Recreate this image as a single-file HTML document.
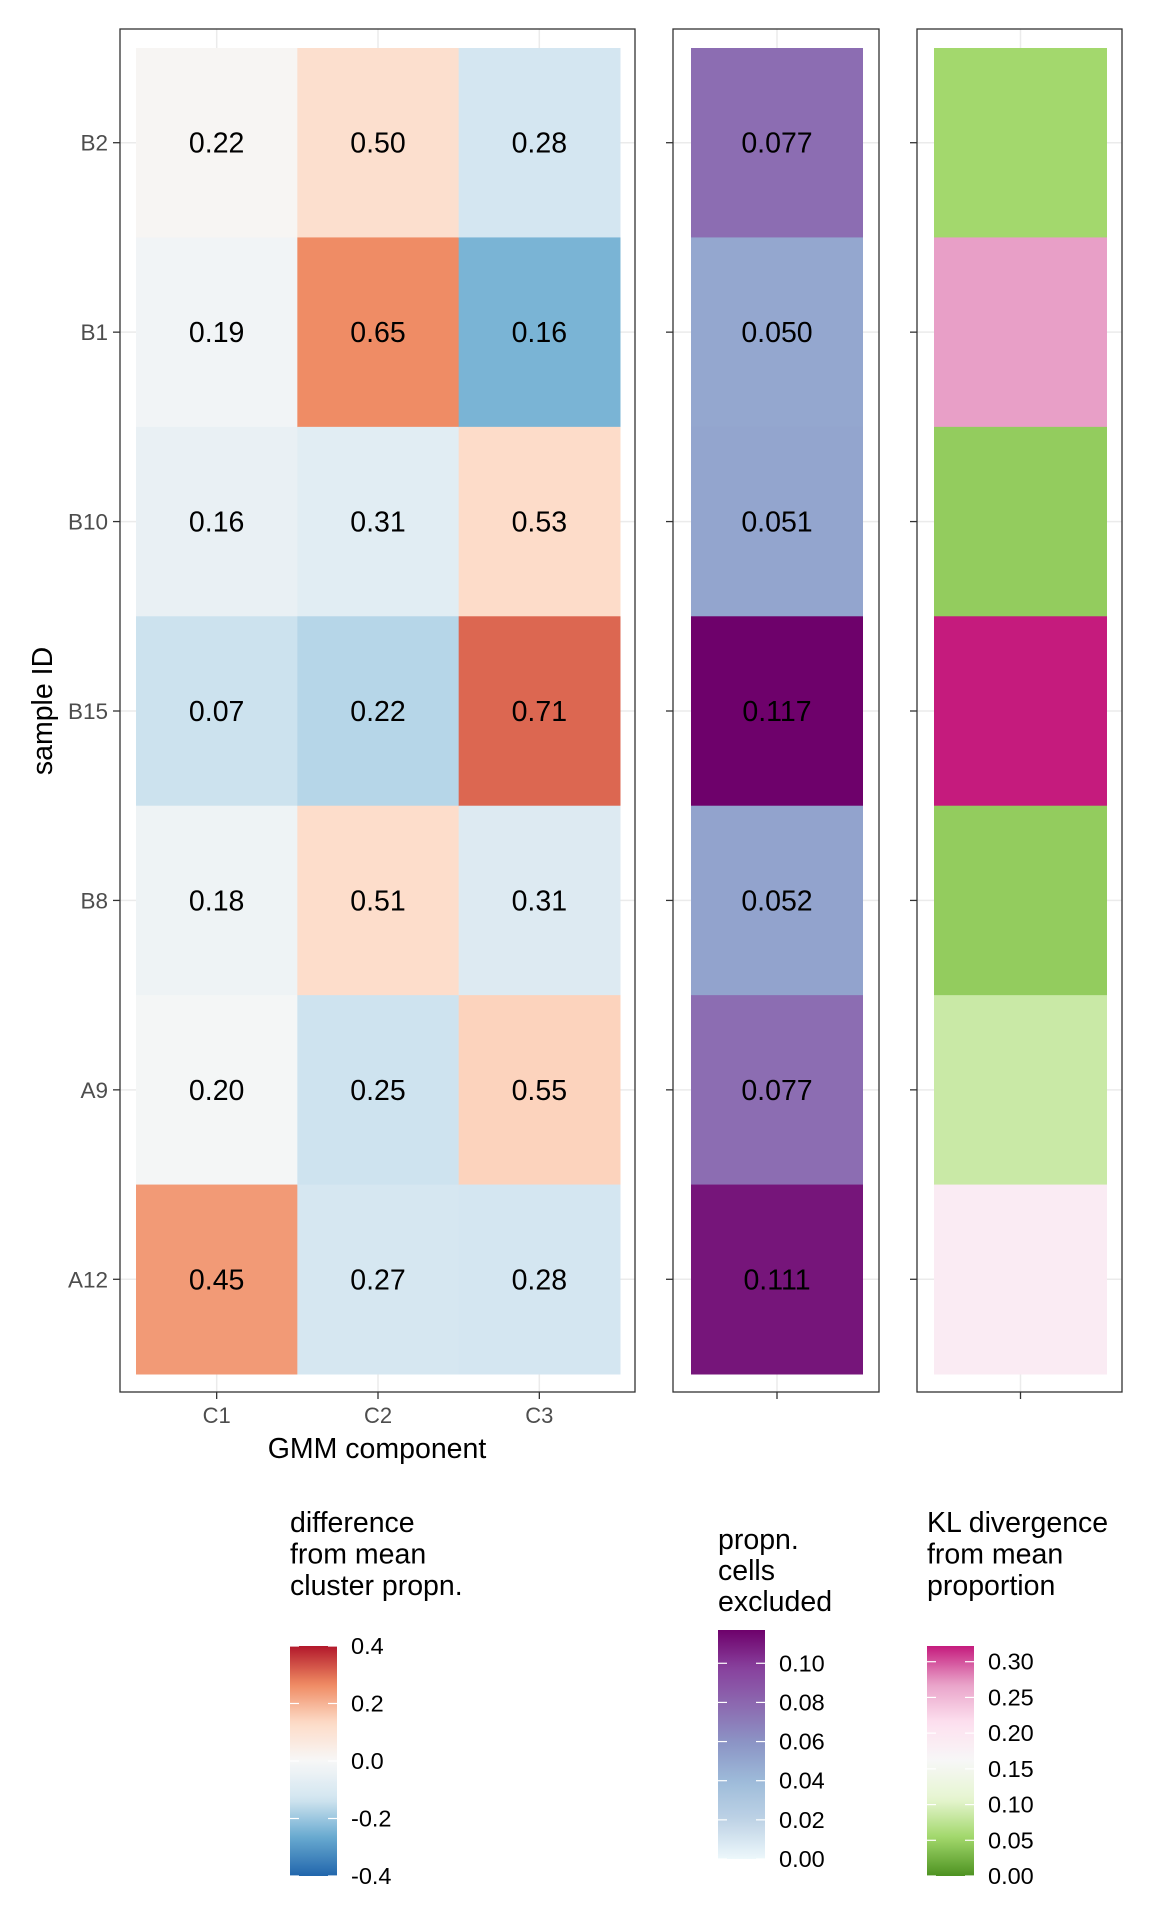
<!DOCTYPE html>
<html><head><meta charset="utf-8"><style>
html,body{margin:0;padding:0;background:#fff;}
svg{display:block;font-family:"Liberation Sans",Arial,sans-serif;}
</style></head><body>
<svg id="chart" width="1152" height="1920" viewBox="0 0 1152 1920" xmlns="http://www.w3.org/2000/svg"></svg>
<script>
const samples = ["B2","B1","B10","B15","B8","A9","A12"];
const components = ["C1","C2","C3"];
const propC1 = [0.22,0.19,0.16,0.07,0.18,0.20,0.45];
const propC2 = [0.50,0.65,0.31,0.22,0.51,0.25,0.27];
const propC3 = [0.28,0.16,0.53,0.71,0.31,0.55,0.28];
const excluded = [0.077,0.050,0.051,0.117,0.052,0.077,0.111];
const excludedLabels = ["0.077","0.050","0.051","0.117","0.052","0.077","0.111"];
const klDiv = [0.055,0.27,0.045,0.322,0.045,0.085,0.19];
const diffTicks = [0.4,0.2,0.0,-0.2,-0.4];
const diffTickLabels = ["0.4","0.2","0.0","-0.2","-0.4"];
const exclTicks = [0.10,0.08,0.06,0.04,0.02,0.00];
const exclTickLabels = ["0.10","0.08","0.06","0.04","0.02","0.00"];
const klTicks = [0.30,0.25,0.20,0.15,0.10,0.05,0.00];
const klTickLabels = ["0.30","0.25","0.20","0.15","0.10","0.05","0.00"];

const NS="http://www.w3.org/2000/svg";
const svg=document.getElementById('chart');
function mk(tag,attrs,parent){const e=document.createElementNS(NS,tag);for(const k in attrs)e.setAttribute(k,attrs[k]);(parent||svg).appendChild(e);return e;}
function hex(c){return [parseInt(c.slice(1,3),16),parseInt(c.slice(3,5),16),parseInt(c.slice(5,7),16)];}
function pal(stops,t){t=Math.max(0,Math.min(1,t));const n=stops.length-1;const i=Math.min(n-1,Math.floor(t*n));const f=t*n-i;const a=hex(stops[i]),b=hex(stops[i+1]);return 'rgb('+a.map((v,k)=>Math.round(v+(b[k]-v)*f)).join(',')+')';}
const RdBu=["#2166AC","#67A9CF","#D1E5F0","#F7F7F7","#FDDBC7","#EF8A62","#B2182B"];
const BuPu=["#EDF8FB","#BFD3E6","#9EBCDA","#8C96C6","#8C6BB1","#88419D","#6E016B"];
const PiYG=["#4D9221","#A1D76A","#E6F5D0","#F7F7F7","#FDE0EF","#E9A3C9","#C51B7D"];
const diffMin=-0.4,diffMax=0.4,exMax=0.117,klMax=0.322;

const tileTop=48,tileBot=1374,rowH=(tileBot-tileTop)/samples.length;
function yRow(i){return tileTop+i*rowH;}
function yMid(i){return yRow(i)+rowH/2;}

function panel(x0,x1){
  mk('rect',{x:x0,y:29,width:x1-x0,height:1363,fill:'#fff'});
  samples.forEach((s,i)=>{const l=mk('line',{x1:x0,x2:x1,y1:yMid(i),y2:yMid(i),stroke:'#EBEBEB','stroke-width':1.5});
  });
}
function border(x0,x1,name){const r=mk('rect',{x:x0,y:29,width:x1-x0,height:1363,fill:'none',stroke:'#333','stroke-width':1.3});
}
function yTicks(x0){samples.forEach((s,i)=>{mk('line',{x1:x0-7,x2:x0,y1:yMid(i),y2:yMid(i),stroke:'#333','stroke-width':1.3});});}

const p1x0=120,p1x1=635,tx0=136,tx1=620,colW=(tx1-tx0)/3;
function xCol(j){return tx0+j*colW;}
panel(p1x0,p1x1);
components.forEach((c,j)=>{mk('line',{x1:xCol(j)+colW/2,x2:xCol(j)+colW/2,y1:29,y2:1392,stroke:'#EBEBEB','stroke-width':1.5});});
const cols=[propC1,propC2,propC3];
cols.forEach((arr,j)=>{
  const mean=arr.reduce((a,b)=>a+b,0)/arr.length;
  arr.forEach((v,i)=>{
    const r=mk('rect',{x:xCol(j),y:yRow(i),width:colW+0.5,height:rowH+0.5,fill:pal(RdBu,(v-mean-diffMin)/(diffMax-diffMin))});
    
    
    const t=mk('text',{x:xCol(j)+colW/2,y:yMid(i)+10,'text-anchor':'middle','font-size':28.5,fill:'#000'});
    t.textContent=v.toFixed(2);
    
    
  });
});
border(p1x0,p1x1,'main-panel');
yTicks(p1x0);
samples.forEach((s,i)=>{const t=mk('text',{x:108,y:yMid(i)+8,'text-anchor':'end','font-size':22.5,fill:'#4D4D4D'});t.textContent=s;
});
components.forEach((c,j)=>{const cx=xCol(j)+colW/2;mk('line',{x1:cx,x2:cx,y1:1392,y2:1399,stroke:'#333','stroke-width':1.3});
const t=mk('text',{x:cx,y:1423,'text-anchor':'middle','font-size':22,fill:'#4D4D4D'});t.textContent=c;
});
let t=mk('text',{x:377,y:1458,'text-anchor':'middle','font-size':28.5,fill:'#000'});t.textContent='GMM component';

t=mk('text',{x:0,y:0,'text-anchor':'middle','font-size':28.5,fill:'#000',transform:'translate(52,711) rotate(-90)'});t.textContent='sample ID';


const p2x0=673,p2x1=879,e0=691,e1=863;
panel(p2x0,p2x1);
mk('line',{x1:(e0+e1)/2,x2:(e0+e1)/2,y1:29,y2:1392,stroke:'#EBEBEB','stroke-width':1.5});
excluded.forEach((v,i)=>{
  const r=mk('rect',{x:e0,y:yRow(i),width:e1-e0,height:rowH+0.5,fill:pal(BuPu,v/exMax)});
  
  
  const tt=mk('text',{x:(e0+e1)/2,y:yMid(i)+10,'text-anchor':'middle','font-size':28.5,fill:'#000'});
  tt.textContent=excludedLabels[i];
  
  
});
border(p2x0,p2x1,'excluded-panel');yTicks(p2x0);
mk('line',{x1:(e0+e1)/2,x2:(e0+e1)/2,y1:1392,y2:1399,stroke:'#333','stroke-width':1.3});

const p3x0=917,p3x1=1122,k0=934,k1=1107;
panel(p3x0,p3x1);
mk('line',{x1:(k0+k1)/2,x2:(k0+k1)/2,y1:29,y2:1392,stroke:'#EBEBEB','stroke-width':1.5});
klDiv.forEach((v,i)=>{
  const r=mk('rect',{x:k0,y:yRow(i),width:k1-k0,height:rowH+0.5,fill:pal(PiYG,v/klMax)});
  
  
});
border(p3x0,p3x1,'kl-panel');yTicks(p3x0);
mk('line',{x1:(k0+k1)/2,x2:(k0+k1)/2,y1:1392,y2:1399,stroke:'#333','stroke-width':1.3});

function legend(name,x,lines,titleY,pitch,barTop,barBot,vmin,vmax,stops,ticks,labels){
  const g=mk('g',{});
  
  lines.forEach((ln,k)=>{const tx=mk('text',{x:x,y:titleY+k*pitch,'font-size':28.5,fill:'#000'},g);tx.textContent=ln;});
  const id='grad-'+name;
  const defs=mk('defs',{},g);const lg=mk('linearGradient',{id:id,x1:0,y1:1,x2:0,y2:0},defs);
  for(let s=0;s<=40;s++){mk('stop',{offset:s/40,'stop-color':pal(stops,s/40)},lg);}
  mk('rect',{x:x,y:barTop,width:47,height:barBot-barTop,fill:'url(#'+id+')'},g);
  function yv(v){return barBot-(v-vmin)/(vmax-vmin)*(barBot-barTop);}
  ticks.forEach((v,k)=>{const yy=yv(v);
    mk('line',{x1:x,x2:x+9,y1:yy,y2:yy,stroke:'#fff','stroke-width':1.2},g);
    mk('line',{x1:x+38,x2:x+47,y1:yy,y2:yy,stroke:'#fff','stroke-width':1.2},g);
    const tx=mk('text',{x:x+61,y:yy+8,'font-size':23.5,fill:'#000'},g);tx.textContent=labels[k];});
}
legend('legend-difference',290,['difference','from mean','cluster propn.'],1532,31.5,1646,1876,diffMin,diffMax,RdBu,diffTicks,diffTickLabels);
legend('legend-excluded',718,['propn.','cells','excluded'],1549,31,1630,1859,0,exMax,BuPu,exclTicks,exclTickLabels);
legend('legend-kl',927,['KL divergence','from mean','proportion'],1532,31.5,1646,1876,0,klMax,PiYG,klTicks,klTickLabels);
</script>
</body></html>
